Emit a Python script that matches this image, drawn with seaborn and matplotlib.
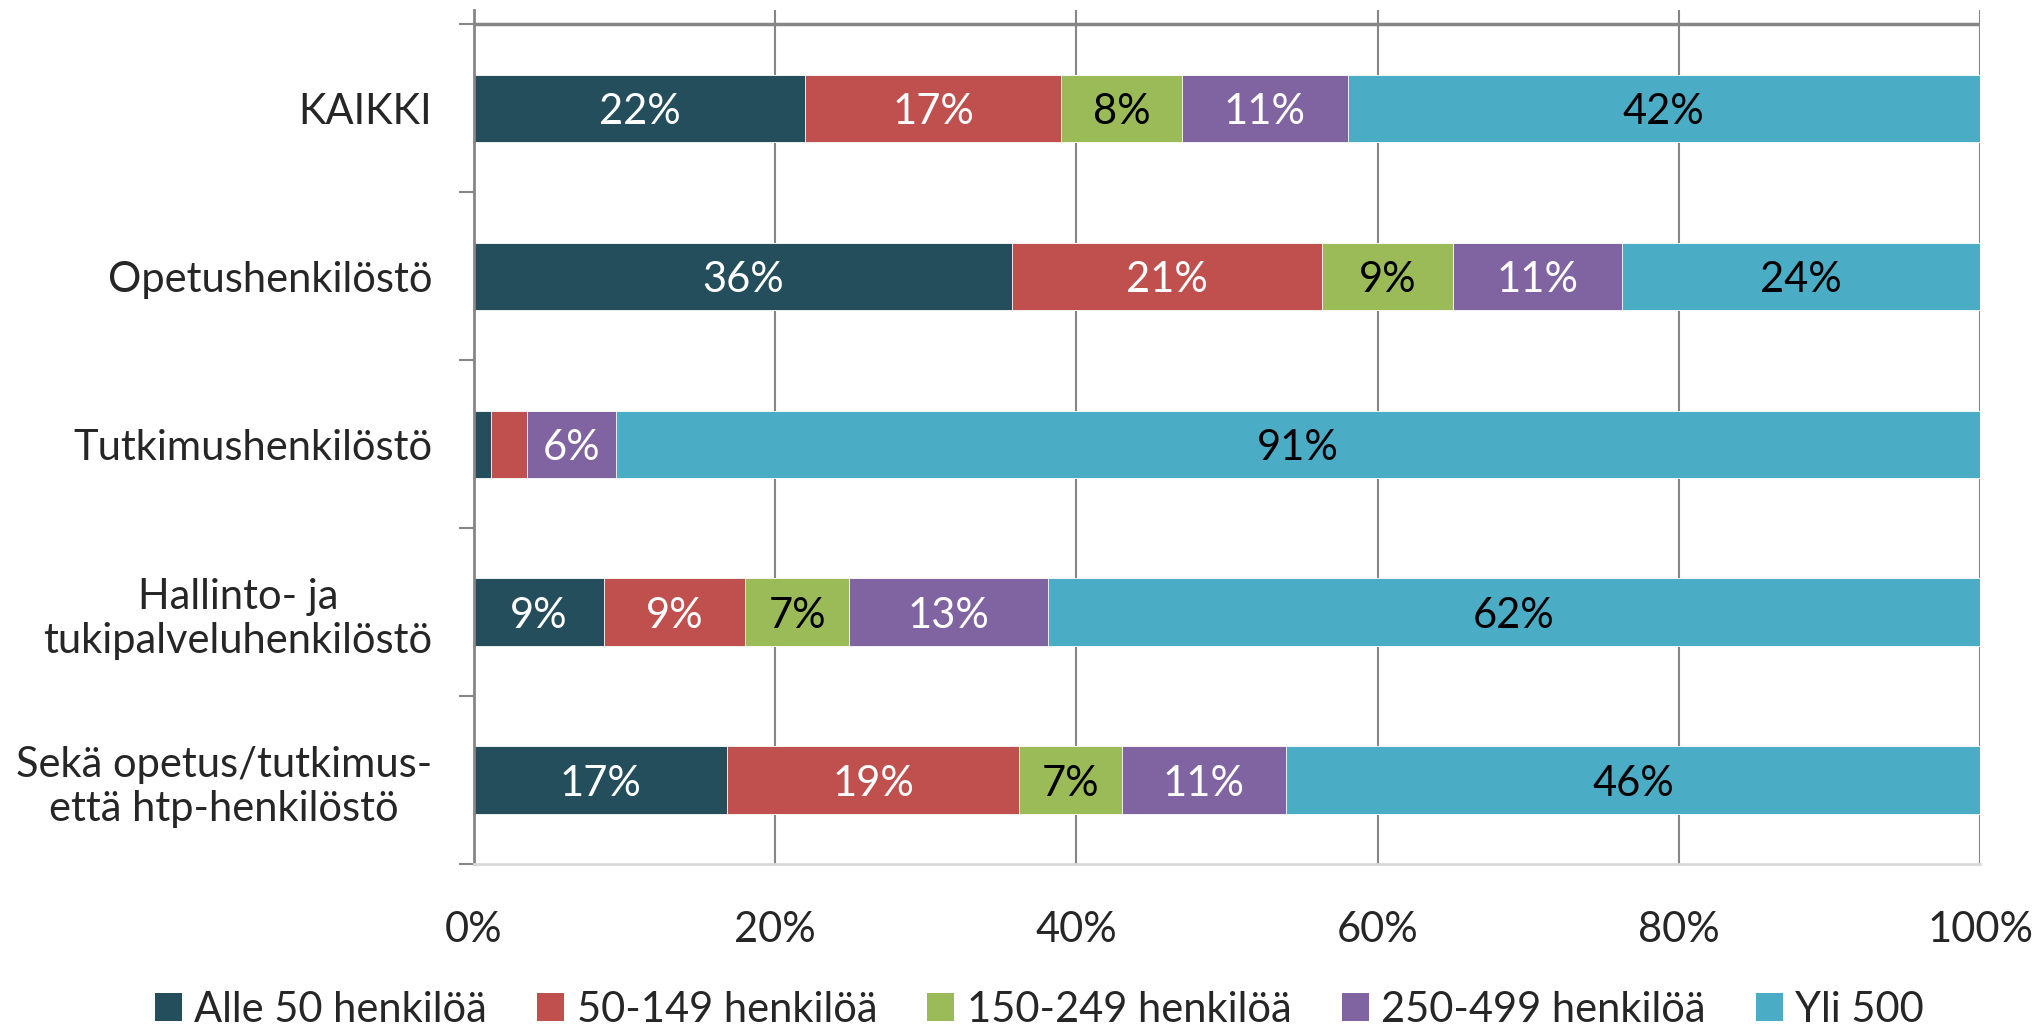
import numpy as np
import pandas as pd
import matplotlib
matplotlib.use("Agg")
import matplotlib.pyplot as plt
from matplotlib.patches import Patch
import seaborn as sns

# data (percent shares)
ryhmat = ["KAIKKI", "Opetushenkilöstö", "Tutkimushenkilöstö",
          "Hallinto- ja\ntukipalveluhenkilöstö",
          "Sekä opetus/tutkimus-\nettä htp-henkilöstö"]
koot = ["Alle 50 henkilöä", "50-149 henkilöä", "150-249 henkilöä",
        "250-499 henkilöä", "Yli 500"]
alle_50 = [22.0, 35.7, 1.1, 8.6, 16.8]
h_50_149 = [17.0, 20.6, 2.4, 9.4, 19.4]
h_150_249 = [8.0, 8.7, 0.0, 6.9, 6.8]
h_250_499 = [11.0, 11.2, 5.9, 13.2, 10.9]
yli_500 = [42.0, 23.8, 90.6, 61.9, 46.1]

varit = ["#244E5C", "#C0504D", "#9BBB59", "#8064A2", "#4BACC6"]
tekstivarit = ["white", "white", "black", "white", "black"]
FS = 30

sns.set_theme(style="white")
plt.rcParams["font.family"] = ["Lato", "DejaVu Sans"]

df = pd.DataFrame({"ryhma": ryhmat})
sarjat = [alle_50, h_50_149, h_150_249, h_250_499, yli_500]
for k, s in zip(koot, sarjat):
    df[k] = s
kum = df[koot].cumsum(axis=1)

fig = plt.figure(figsize=(20.38, 10.27), dpi=100)
ax = fig.add_axes([0.2326, 0.1587, 0.739, 0.8313])

# stacked bars: draw the cumulative totals from the widest down
for i in range(len(koot) - 1, -1, -1):
    sns.barplot(x=kum[koot[i]], y=df["ryhma"], color=varit[i], orient="h",
                width=0.4, ax=ax, edgecolor="white", linewidth=0.6,
                saturation=1)

# value labels
for r in range(len(ryhmat)):
    vasen = 0
    for i, k in enumerate(koot):
        v = df.loc[r, k]
        if v >= 5:
            ax.text(vasen + v / 2, r, f"{v:.0f}%", ha="center",
                    va="center_baseline", color=tekstivarit[i], fontsize=FS)
        vasen += v

ax.set_xlim(0, 100)
ax.set_ylim(4.5, -0.583)
ax.set_xticks(np.arange(0, 101, 20))
ax.set_xticklabels([f"{t}%" for t in range(0, 101, 20)], fontsize=FS)
ax.set_yticks(np.arange(-0.5, 5, 1), minor=False)
ax.set_yticklabels([])
ax.set_yticks(range(len(ryhmat)), minor=True)
ax.set_yticklabels(ryhmat, minor=True, fontsize=FS, ha="right",
                   multialignment="center")
ax.tick_params(axis="y", which="major", length=11, width=1.5,
               color="#868686", left=True)
ax.tick_params(axis="y", which="minor", length=0, pad=30)
ax.tick_params(axis="x", length=0, pad=34)
ax.set_xlabel("")
ax.set_ylabel("")

ax.grid(axis="x", color="#868686", linewidth=1.5)
ax.set_axisbelow(True)
ax.axhline(-0.5, color="#868686", linewidth=2.5, zorder=0.5)
for s in ["top", "right"]:
    ax.spines[s].set_visible(False)
ax.spines["left"].set_color("#868686")
ax.spines["left"].set_linewidth(2)
ax.spines["bottom"].set_color("#D9D9D9")
ax.spines["bottom"].set_linewidth(2)

kahvat = [Patch(facecolor=c, edgecolor="none") for c in varit]
fig.legend(kahvat, koot, loc="lower center", bbox_to_anchor=(0.51, -0.038),
           ncol=5, frameon=False, fontsize=FS, handlelength=0.65,
           handleheight=0.65, handletextpad=0.3, columnspacing=1.2)

fig.savefig("out.png", dpi=100)
